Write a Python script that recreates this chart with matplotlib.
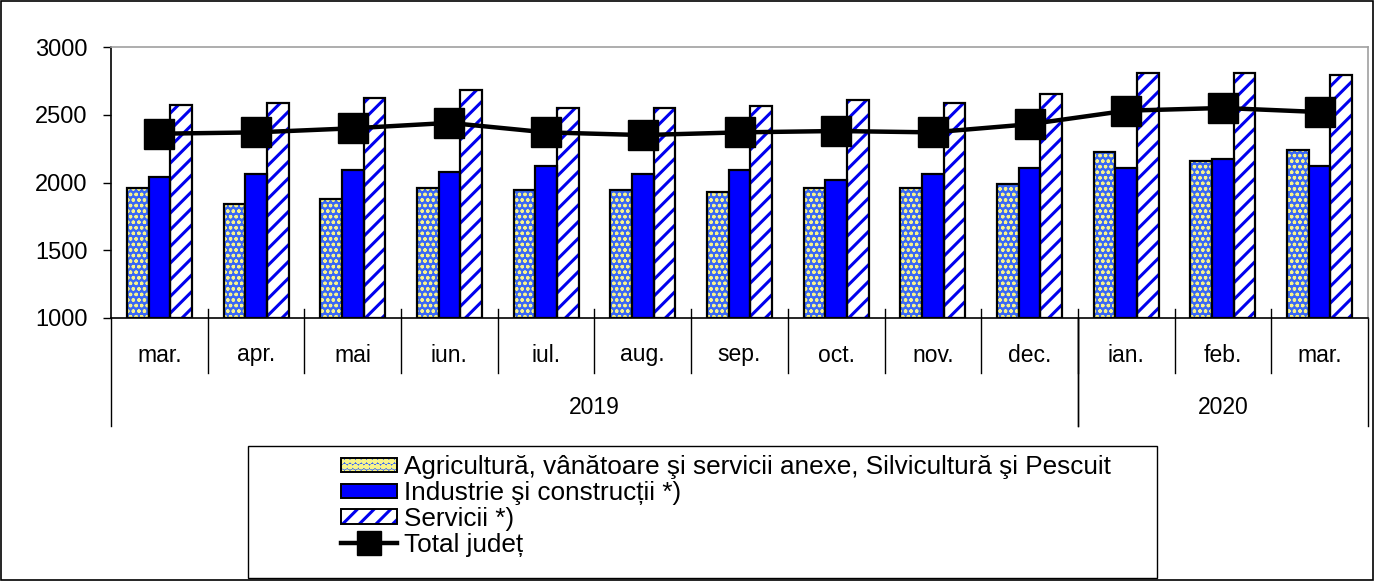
import matplotlib
matplotlib.use("Agg")
import matplotlib.pyplot as plt
from matplotlib.patches import Patch, Rectangle
from matplotlib.lines import Line2D
from matplotlib.legend_handler import HandlerTuple
import matplotlib.transforms as mtransforms
import numpy as np

months = ["mar.", "apr.", "mai", "iun.", "iul.", "aug.", "sep.", "oct.", "nov.", "dec.", "ian.", "feb.", "mar."]
years = ["2019", "2020"]
year_spans = [(0, 9), (10, 12)]
agri = [1960, 1845, 1875, 1960, 1945, 1945, 1930, 1960, 1960, 1990, 2225, 2155, 2240]
industrie = [2040, 2065, 2095, 2080, 2125, 2065, 2095, 2020, 2065, 2110, 2110, 2170, 2125]
servicii = [2570, 2585, 2625, 2685, 2550, 2550, 2565, 2610, 2585, 2655, 2805, 2805, 2790]
total = [2360, 2370, 2400, 2440, 2370, 2350, 2370, 2380, 2370, 2430, 2530, 2550, 2520]
labels = ["Agricultură, vânătoare şi servicii anexe, Silvicultură şi Pescuit",
          "Industrie şi construcții *)", "Servicii *)", "Total județ"]

plt.rcParams['font.family'] = ['Liberation Sans', 'DejaVu Sans']

W, H = 1375, 581
fig = plt.figure(figsize=(W / 100, H / 100), dpi=100)
fig.patches.append(Rectangle((0.0005, 0.001), 0.998, 0.997, transform=fig.transFigure,
                             fill=False, edgecolor='black', linewidth=1.2))

L, R, T, B = 111, 1368, 47, 318
ax = fig.add_axes([L / W, 1 - B / H, (R - L) / W, (B - T) / H])

n = len(months)
x = np.arange(n)
bw = 0.224

agri_face = '#3a68f5'
agri_hatch = '#f8f48a'
stripe = '#0000ee'
ind_col = '#0000ff'

# agriculture: patterned fill + black border
plt.rcParams['hatch.linewidth'] = 0.9
ax.bar(x - bw, np.array(agri) - 1000, bw, bottom=1000, color=agri_face,
       hatch='ooo', edgecolor=agri_hatch, linewidth=0, zorder=2)
h_agri_fill = Patch(facecolor=agri_face, hatch='ooo', edgecolor=agri_hatch, linewidth=0)
ax.bar(x - bw, np.array(agri) - 1000, bw, bottom=1000, fill=False,
       edgecolor='black', linewidth=1.6, zorder=3)
# industry
ax.bar(x, np.array(industrie) - 1000, bw, bottom=1000, color=ind_col,
       edgecolor='black', linewidth=1.6, zorder=3)
# services: stripes
plt.rcParams['hatch.linewidth'] = 2.2
ax.bar(x + bw, np.array(servicii) - 1000, bw, bottom=1000, color='white',
       hatch='//', edgecolor=stripe, linewidth=0, zorder=2)
h_serv_fill = Patch(facecolor='white', hatch='//', edgecolor=stripe, linewidth=0)
ax.bar(x + bw, np.array(servicii) - 1000, bw, bottom=1000, fill=False,
       edgecolor='black', linewidth=1.6, zorder=3)

ax.plot(x, total, color='black', linewidth=3.2, marker='s', markersize=21,
        markerfacecolor='black', markeredgecolor='black', zorder=5)

ax.set_xlim(-0.5, n - 0.5)
ax.set_ylim(1000, 3000)
ax.set_yticks(np.arange(1000, 3001, 500))
ax.tick_params(axis='y', direction='out', length=6, width=1, labelsize=17, pad=11)
ax.set_xticks([])
for s in ['top', 'right']:
    ax.spines[s].set_color('#a0a0a0')
    ax.spines[s].set_linewidth(1.2)
for s in ['left', 'bottom']:
    ax.spines[s].set_color('black')
    ax.spines[s].set_linewidth(1.2)

trans = mtransforms.blended_transform_factory(ax.transData, ax.transAxes)
h_ax = B - T
y_top_tick = 9 / h_ax
y_month_bot = -(373 - B) / h_ax
y_year_bot = -(426 - B) / h_ax
for i in range(1, n):
    ax.plot([i - 0.5, i - 0.5], [y_top_tick, y_month_bot], color='black', lw=1,
            transform=trans, clip_on=False)
for (a, b) in year_spans:
    for xb in (a - 0.5, b + 0.5):
        ax.plot([xb, xb], [0, y_year_bot], color='black', lw=1,
                transform=trans, clip_on=False)
for i, m in enumerate(months):
    ax.text(i, -(355 - B) / h_ax, m, transform=trans, ha='center', va='center', fontsize=16.5)
for yname, (a, b) in zip(years, year_spans):
    ax.text((a + b) / 2, -(408 - B) / h_ax, yname, transform=trans, ha='center',
            va='center', fontsize=16.5)

# legend frame
lx0, lx1, ly0, ly1 = 248, 1157, 446, 578
fig.patches.append(Rectangle((lx0 / W, 1 - ly1 / H), (lx1 - lx0) / W, (ly1 - ly0) / H,
                             transform=fig.transFigure, fill=False, edgecolor='black',
                             linewidth=1))
h_agri = (h_agri_fill, Patch(fill=False, edgecolor='black', linewidth=1.4))
h_ind = Patch(facecolor=ind_col, edgecolor='black', linewidth=1.4)
h_serv = (h_serv_fill, Patch(fill=False, edgecolor='black', linewidth=1.4))
h_tot = Line2D([], [], color='black', linewidth=3.2, marker='s', markersize=17)
leg = fig.legend([h_agri, h_ind, h_serv, h_tot], labels,
                 handler_map={tuple: HandlerTuple(ndivide=1)},
                 loc='center left', bbox_to_anchor=(341 / W, 1 - 506 / H),
                 frameon=False, fontsize=18.8, handlelength=2.15, handleheight=0.48,
                 handletextpad=0.28, labelspacing=0.07, borderpad=0, borderaxespad=0)

fig.savefig("out.png", dpi=100)
